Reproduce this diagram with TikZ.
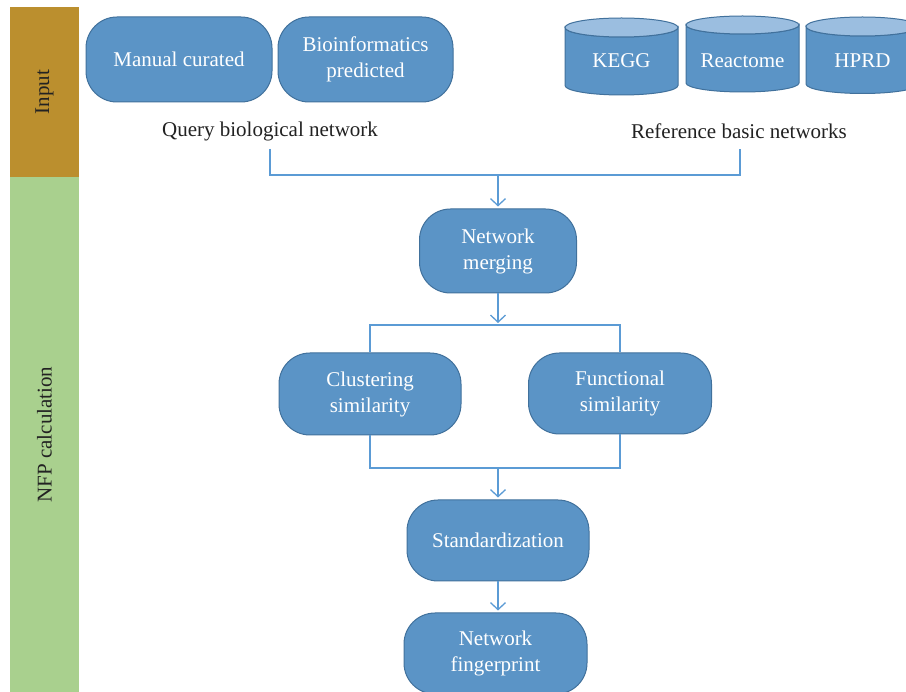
\documentclass[tikz,border=0pt]{standalone}
\usepackage{fontspec}
\setmainfont{Liberation Serif}
\usetikzlibrary{arrows.meta}
\definecolor{boxfill}{HTML}{5B94C6}
\definecolor{boxline}{HTML}{41719C}
\definecolor{cyltop}{HTML}{9BBEE0}
\definecolor{connc}{HTML}{5B9BD5}
\definecolor{inputbar}{HTML}{BB8F2E}
\definecolor{nfpbar}{HTML}{A9D08E}
\definecolor{darktext}{HTML}{222222}
\tikzset{
  rbox/.style={draw=boxline, fill=boxfill, line width=1pt, rounded corners=31pt,
    text=white, align=center, font=\fontsize{21}{26}\selectfont, inner sep=0pt},
  cyltext/.style={text=white, font=\fontsize{21}{26}\selectfont, inner sep=0pt},
  plainlab/.style={text=darktext, font=\fontsize{21}{26}\selectfont, inner sep=0pt},
  barlab/.style={text=darktext, font=\fontsize{21}{26}\selectfont, inner sep=0pt, rotate=90},
  conn/.style={draw=connc, line width=1.3pt},
  arr/.style={conn, -{Straight Barb[length=7pt,width=15pt]}, shorten >=2pt},
  cylbody/.style={fill=boxfill, draw=boxline, line width=1pt},
  cylcap/.style={fill=cyltop, draw=boxline, line width=1pt}
}
\newcommand\drawcyl[5]{% L R ytop ybot ry
  \pgfmathsetmacro\cylrx{(#2-#1)/2}
  \path[cylbody] (#1,#3) -- (#1,#4)
     arc[start angle=180, end angle=360, x radius=\cylrx pt, y radius=#5pt]
     -- (#2,#3) arc[start angle=0, end angle=-180, x radius=\cylrx pt, y radius=#5pt] -- cycle;
  \path[cylcap] ({(#1+#2)/2},#3) ellipse[x radius=\cylrx pt, y radius=#5pt];
}
\begin{document}
\begin{tikzpicture}[x=1pt,y=-1pt]
\useasboundingbox (0,0) rectangle (906,692);
\clip (0,0) rectangle (906,692);
\fill[white] (0,0) rectangle (906,692);

% side bars
\fill[inputbar] (10,7) rectangle (79,177);
\fill[nfpbar] (10,177) rectangle (79,692);
\node[barlab] (inlab) at (44.5,92) {Input};
\node[barlab] (nfplab) at (44.5,434.5) {NFP calculation};

% input boxes
\node[rbox, minimum width=186pt, minimum height=85pt] (man) at (179,59.5) {Manual curated};
\node[rbox, minimum width=175pt, minimum height=85pt] (bio) at (365.5,59.5) {Bioinformatics\\predicted};

% databases
\drawcyl{565}{678}{27.5}{85.5}{9.5}
\drawcyl{686}{799}{25}{83}{9}
\drawcyl{806}{919}{26.5}{84}{9.5}
\node[cyltext] (kegg) at (621.5,61) {KEGG};
\node[cyltext] (reac) at (742.5,61) {Reactome};
\node[cyltext] (hprd) at (862.5,61) {HPRD};

\node[plainlab] (qlab) at (270,131) {Query biological network};
\node[plainlab] (rlab) at (739,131) {Reference basic networks};

% process boxes
\node[rbox, minimum width=157pt, minimum height=84pt] (merge) at (498,251) {Network\\merging};
\node[rbox, minimum width=182pt, minimum height=82pt] (clus) at (370,394) {Clustering\\similarity};
\node[rbox, minimum width=183pt, minimum height=81pt] (func) at (620,393.5) {Functional\\similarity};
\node[rbox, minimum width=182pt, minimum height=81pt] (std) at (498,540.5) {Standardization};
\node[rbox, minimum width=183pt, minimum height=81pt] (fp) at (495.5,653.5) {Network\\fingerprint};

% connectors
\coordinate (q1) at (270,149);
\coordinate (r1) at (740,149);
\coordinate (jt) at (498,175);
\draw[conn] (q1) |- (jt) -| (r1);
\draw[arr] (jt) -- (merge.north);

\coordinate (j2) at (498,325);
\draw[arr] (merge.south) -- (j2);
\draw[conn] (clus.north) |- (j2) -| (func.north);

\coordinate (j3) at (498,468);
\draw[conn] (clus.south) |- (j3) -| (func.south);
\draw[arr] (j3) -- (std.north);
\draw[arr] (std.south) -- (std.south |- fp.north);
\end{tikzpicture}
\end{document}
